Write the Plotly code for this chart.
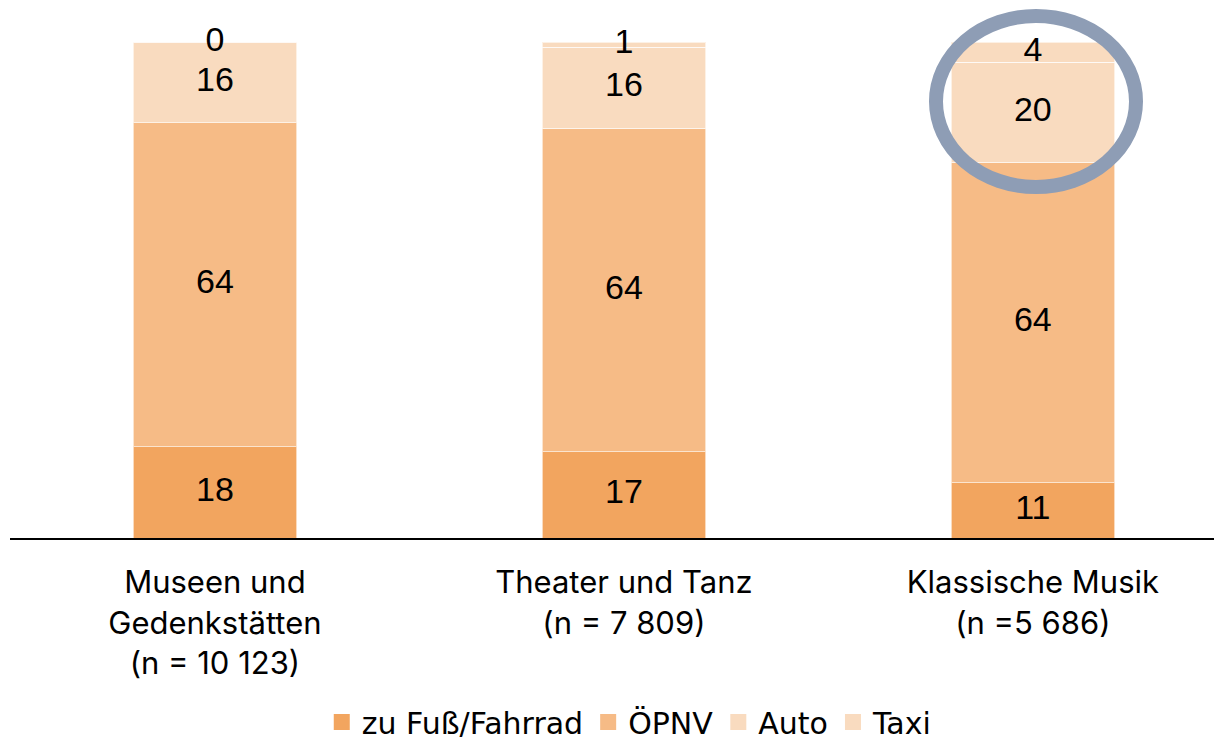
import plotly.graph_objects as go

categories = ["Museen und<br>Gedenkstätten<br>(n = 10 123)",
              "Theater und Tanz<br>(n = 7 809)",
              "Klassische Musik<br>(n =5 686)"]
series_names = ["zu Fuß/Fahrrad", "ÖPNV", "Auto", "Taxi"]
fuss = [18, 17, 11]
oepnv = [64, 64, 64]
auto = [16, 16, 20]
taxi = [0, 1, 4]
colors = ["#F2A55F", "#F6BB86", "#F9DBBF", "#F9DBBF"]

series = [fuss, oepnv, auto, taxi]
xpos = list(range(len(categories)))
totals = [sum(s[i] for s in series) for i in xpos]

TICKFONT = "Inter"
LABELFONT = "Liberation Sans"
LEGENDFONT = "DejaVu Sans"

fig = go.Figure()
for name, vals, col in zip(series_names, series, colors):
    pct = [v / t * 100 for v, t in zip(vals, totals)]
    fig.add_trace(go.Bar(
        x=xpos, y=pct, name=name, width=0.4, showlegend=False,
        marker=dict(color=col, line=dict(color="rgba(255,255,255,0.6)", width=1)),
        hoverinfo="skip"))

# legend entries with larger square swatches
for name, col in zip(series_names, colors):
    fig.add_trace(go.Scatter(x=[None], y=[None], mode="markers", name=name,
                             marker=dict(symbol="square", size=17, color=col),
                             hoverinfo="skip"))

# value labels at segment midpoints (normalized to 100 %)
lx, ly, lt = [], [], []
for i in xpos:
    base = 0
    for vals in series:
        p = vals[i] / totals[i] * 100
        lx.append(i)
        ly.append(base + p / 2)
        lt.append(str(vals[i]))
        base += p
fig.add_trace(go.Scatter(x=lx, y=ly, text=lt, mode="text", showlegend=False,
                         cliponaxis=False,
                         textfont=dict(family=LABELFONT, size=34, color="black"),
                         hoverinfo="skip"))

L, R, T, B = 2, 0, 34, 209
W = 1222 - L - R
H = 739 - T - B


def px(xp):
    return (xp - L) / W


def py(yp):
    return (739 - B - yp) / H


# highlight ring around "Klassische Musik" top segments
fig.add_shape(type="circle", xref="paper", yref="paper",
              x0=px(928), x1=px(1128), y0=py(179), y1=py(8),
              line=dict(color="#8E9DB5", width=14))

fig.update_layout(
    barmode="stack", width=1222, height=739,
    margin=dict(l=L, r=R, t=T, b=B),
    plot_bgcolor="white", paper_bgcolor="white",
    font=dict(family=TICKFONT, size=31, color="black"),
    xaxis=dict(tickvals=xpos, ticktext=categories, range=[-0.501, 2.482],
               showline=True, linecolor="black", linewidth=2, showgrid=False,
               zeroline=False, ticks="outside", ticklen=16, tickcolor="rgba(0,0,0,0)",
               tickfont=dict(family=TICKFONT, size=31, color="black")),
    yaxis=dict(range=[0, 100], visible=False),
    legend=dict(orientation="h", x=0.508, xanchor="center", yref="container",
                y=1 - 714 / 739, yanchor="middle",
                font=dict(family=LEGENDFONT, size=30, color="black"),
                traceorder="normal"),
    showlegend=True,
)
fig.write_html("out.html")
